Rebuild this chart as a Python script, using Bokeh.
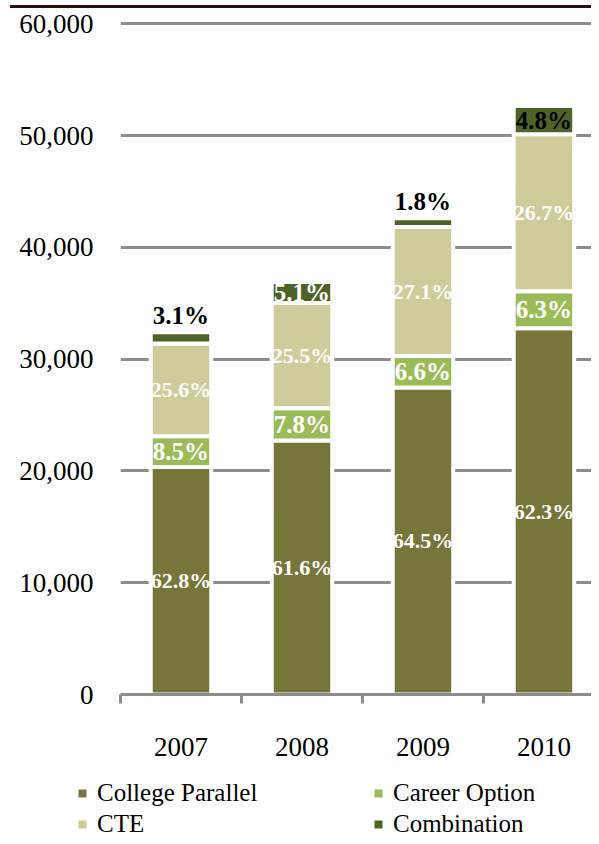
from bokeh.plotting import figure
from bokeh.models import (ColumnDataSource, Range1d, FixedTicker, Legend, LegendItem, Div)
from bokeh.layouts import column, row
from bokeh.core.properties import value
from bokeh.embed import file_html
from bokeh.resources import INLINE

# ---------------- data ----------------
years = ["2007", "2008", "2009", "2010"]
series_names = ["College Parallel", "Career Option", "CTE", "Combination"]
college_parallel = [20350, 22730, 27470, 32760]
career_option = [2754, 2878, 2811, 3313]
cte = [8294, 9410, 11542, 14040]
combination = [1004, 1882, 767, 2524]
pct_cp = ["62.8%", "61.6%", "64.5%", "62.3%"]
pct_co = ["8.5%", "7.8%", "6.6%", "6.3%"]
pct_cte = ["25.6%", "25.5%", "27.1%", "26.7%"]
pct_comb = ["3.1%", "5.1%", "1.8%", "4.8%"]
y_ticks = [0, 10000, 20000, 30000, 40000, 50000, 60000]
y_tick_labels = ["0", "10,000", "20,000", "30,000", "40,000", "50,000", "60,000"]

# ---------------- style ----------------
colors = ["#77763A", "#9BBB59", "#CDCC9A", "#4F6228"]
grid_gray = "#8C8C8C"
serif = "Liberation Serif"
comb_inside = [False, True, False, True]
comb_color = ["black", "white", "black", "black"]

xs = [i + 0.5 for i in range(len(years))]
source = ColumnDataSource(dict(x=xs, cp=college_parallel, co=career_option,
                               cte=cte, comb=combination))

p = figure(width=591, height=764, output_backend="svg", toolbar_location=None,
           x_range=Range1d(0, 3.893), y_range=Range1d(0, 60200),
           min_border_left=120, min_border_right=0, min_border_top=8,
           min_border_bottom=83, outline_line_color=None)

p.vbar_stack(["cp", "co", "cte", "comb"], x="x", width=0.5, source=source,
             fill_color=colors, line_color="white", line_width=4)

# labels
series = [college_parallel, career_option, cte, combination]
pcts = [pct_cp, pct_co, pct_cte, pct_comb]
bottoms = [0] * len(years)
lab_x, lab_y, lab_t, lab_c, lab_s, lab_b, lab_off = [], [], [], [], [], [], []
for k, (vals, pl) in enumerate(zip(series, pcts)):
    for i, v in enumerate(vals):
        if k == 3 and not comb_inside[i]:
            lab_y.append(bottoms[i] + v)
            lab_b.append("bottom")
            lab_off.append(-3)
        else:
            lab_y.append(bottoms[i] + v / 2)
            lab_b.append("middle")
            lab_off.append(0)
        lab_x.append(xs[i])
        lab_t.append(pl[i])
        lab_c.append(comb_color[i] if k == 3 else "white")
        lab_s.append("22px" if len(pl[i]) > 4 else "25px")
        bottoms[i] += v

lsrc = ColumnDataSource(dict(x=lab_x, y=lab_y, t=lab_t, c=lab_c, s=lab_s,
                             b=lab_b, off=lab_off))
p.text(x="x", y="y", text="t", source=lsrc, text_color="c",
       text_font=value(serif), text_font_style="bold", text_font_size="s",
       text_align="center", text_baseline="b", y_offset="off")

# grid
p.xgrid.grid_line_color = None
p.ygrid.ticker = FixedTicker(ticks=y_ticks)
p.ygrid.grid_line_color = grid_gray
p.ygrid.grid_line_width = 3

# y axis
p.yaxis.ticker = FixedTicker(ticks=y_ticks)
p.yaxis.major_label_overrides = {t: l for t, l in zip(y_ticks, y_tick_labels)}
p.yaxis.axis_line_color = None
p.yaxis.major_tick_line_color = None
p.yaxis.major_tick_out = 0
p.yaxis.major_tick_in = 0
p.yaxis.minor_tick_line_color = None
p.yaxis.major_label_text_font = serif
p.yaxis.major_label_text_font_size = "27px"
p.yaxis.major_label_text_color = "black"
p.yaxis.major_label_standoff = 27

# x axis
p.xaxis.ticker = FixedTicker(ticks=xs, minor_ticks=list(range(len(years) + 1)))
p.xaxis.major_label_overrides = {x: y for x, y in zip(xs, years)}
p.xaxis.axis_line_color = grid_gray
p.xaxis.axis_line_width = 3
p.xaxis.major_tick_line_color = None
p.xaxis.minor_tick_line_color = grid_gray
p.xaxis.minor_tick_line_width = 3
p.xaxis.minor_tick_in = 0
p.xaxis.minor_tick_out = 9
p.xaxis.major_label_text_font = serif
p.xaxis.major_label_text_font_size = "27px"
p.xaxis.major_label_text_color = "black"
p.xaxis.major_label_standoff = 34

# legend (own strip below the chart); legend glyph renderers carry the
# series data but sit outside this strip's visible y range
lf = figure(width=591, height=61, output_backend="svg", toolbar_location=None,
            min_border=0, min_border_left=0, min_border_right=0,
            x_axis_type=None, y_axis_type=None, outline_line_color=None,
            x_range=Range1d(0, 4), y_range=Range1d(-2, -1))
lf.xgrid.grid_line_color = None
lf.ygrid.grid_line_color = None
rend = {}
for name, vals, c in zip(series_names, series, colors):
    rend[name] = lf.scatter(x=xs, y=vals, marker="square", size=8,
                            fill_color=c, line_color=None)
# column-major fill: first column CP / CTE, second column Career / Combination
order = ["College Parallel", "CTE", "Career Option", "Combination"]
items = [LegendItem(label=n, renderers=[rend[n]]) for n in order]
legend = Legend(items=items, ncols=2, location=(72, 0),
                label_text_font=serif, label_text_font_size="25px",
                label_text_color="black",
                border_line_color=None, background_fill_alpha=0,
                padding=0, margin=0, spacing=3,
                glyph_width=20, glyph_height=28, label_standoff=5,
                label_width=268, label_height=28)
lf.add_layout(legend, "center")

top = Div(width=581, height=3, styles={"background-color": "#2B0D0D",
                                       "margin-left": "10px"})

layout = column(top, p, row(lf), spacing=0)
open("out.html", "w").write(file_html(layout, INLINE))
